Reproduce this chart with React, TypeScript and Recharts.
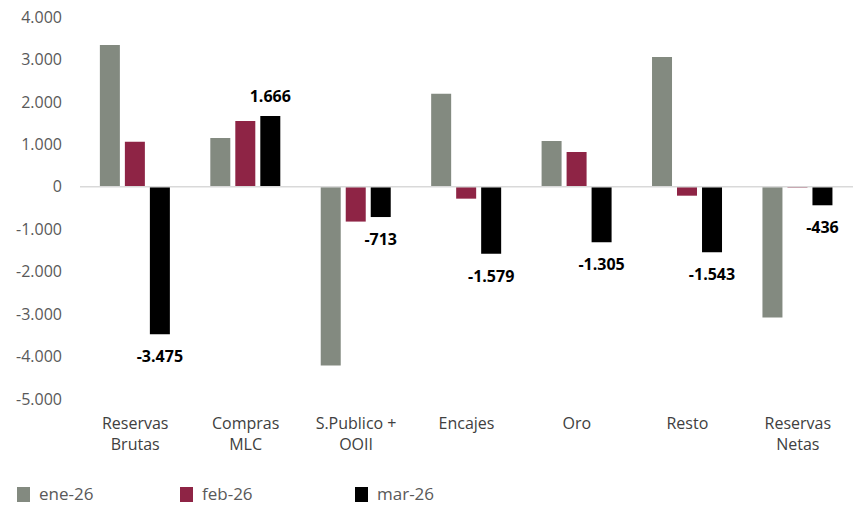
import React from 'react';
import {
  BarChart, Bar, XAxis, YAxis, ReferenceLine, Legend, LabelList,
} from 'recharts';

const categories = [
  'Reservas Brutas', 'Compras MLC', 'S.Publico + OOII', 'Encajes',
  'Oro', 'Resto', 'Reservas Netas',
];
// two-line category labels as drawn under the axis
const categoryLines = [
  ['Reservas', 'Brutas'], ['Compras', 'MLC'], ['S.Publico +', 'OOII'], ['Encajes'],
  ['Oro'], ['Resto'], ['Reservas', 'Netas'],
];
const ene26 = [3340, 1150, -4210, 2190, 1080, 3060, -3080];
const feb26 = [1060, 1550, -820, -280, 820, -210, -20];
const mar26 = [-3475, 1666, -713, -1579, -1305, -1543, -436];
const yTicks = [4000, 3000, 2000, 1000, 0, -1000, -2000, -3000, -4000, -5000];

const series = [
  { key: 'ene', name: 'ene-26', color: '#838a80' },
  { key: 'feb', name: 'feb-26', color: '#8e2445' },
  { key: 'mar', name: 'mar-26', color: '#000000' },
];

const data = categories.map((c, i) => ({
  name: c, ene: ene26[i], feb: feb26[i], mar: mar26[i],
}));

const FONT = '"Open Sans", "Noto Sans", sans-serif';
const TEXT = '#595959';

// 4000 -> "4.000"
const fmt = (v: number) => {
  const s = Math.abs(Math.round(v)).toString().replace(/\B(?=(\d{3})+(?!\d))/g, '.');
  return (v < 0 ? '-' : '') + s;
};

const CategoryTick = ({ x, y, index }: any) => {
  const lines = categoryLines[index] || [];
  return (
    <text x={x} y={y} textAnchor="middle" fill="#404040" fontSize={16} fontFamily={FONT}>
      {lines.map((l, i) => (
        <tspan key={i} x={x} dy={i === 0 ? 22 : 21}>{l}</tspan>
      ))}
    </text>
  );
};

const MarLabel = ({ x, y, width, height, value }: any) => {
  const top = Math.min(y, y + height);
  const bottom = Math.max(y, y + height);
  const cy = value < 0 ? bottom + 22 : top - 20;
  return (
    <text x={x + width / 2} y={cy} dy={6} textAnchor="middle" fill="#000"
      fontSize={16} fontWeight={700} fontFamily={FONT}>
      {fmt(value)}
    </text>
  );
};

const LegendContent = () => {
  const xs = [17, 180, 355];
  return (
    <div style={{ position: 'relative', height: 36, fontFamily: FONT }}>
      {series.map((s, i) => (
        <div key={s.key} style={{
          position: 'absolute', left: xs[i], top: 12, height: 22,
          display: 'flex', alignItems: 'center', lineHeight: '22px',
        }}>
          <span style={{ width: 13, height: 15, background: s.color, display: 'inline-block' }} />
          <span style={{ marginLeft: 9, fontSize: 17, color: TEXT }}>{s.name}</span>
        </div>
      ))}
    </div>
  );
};

export default function App() {
  return (
    <div style={{ position: 'absolute', left: 0, top: 0, background: '#fff' }}>
      <BarChart width={855} height={507} data={data}
        margin={{ top: 17, right: 2, bottom: 0, left: 0 }}
        barCategoryGap="18%" barGap={5}>
        <YAxis
          width={80}
          domain={[-5000, 4000]}
          ticks={yTicks}
          interval={0}
          tickFormatter={fmt}
          axisLine={false}
          tickLine={false}
          tickSize={0}
          tickMargin={18}
          tick={{ fill: TEXT, fontSize: 16, fontFamily: FONT }}
        />
        <XAxis
          dataKey="name"
          height={72}
          axisLine={false}
          tickLine={false}
          interval={0}
          tick={<CategoryTick />}
        />
        <ReferenceLine y={0} stroke="#d9d9d9" strokeWidth={1.5} />
        <Legend verticalAlign="bottom" height={36} content={<LegendContent />} />
        {series.map((s) => (
          <Bar key={s.key} dataKey={s.key} name={s.name} fill={s.color} isAnimationActive={false}>
            {s.key === 'mar' && <LabelList dataKey="mar" content={<MarLabel />} />}
          </Bar>
        ))}
      </BarChart>
    </div>
  );
}
